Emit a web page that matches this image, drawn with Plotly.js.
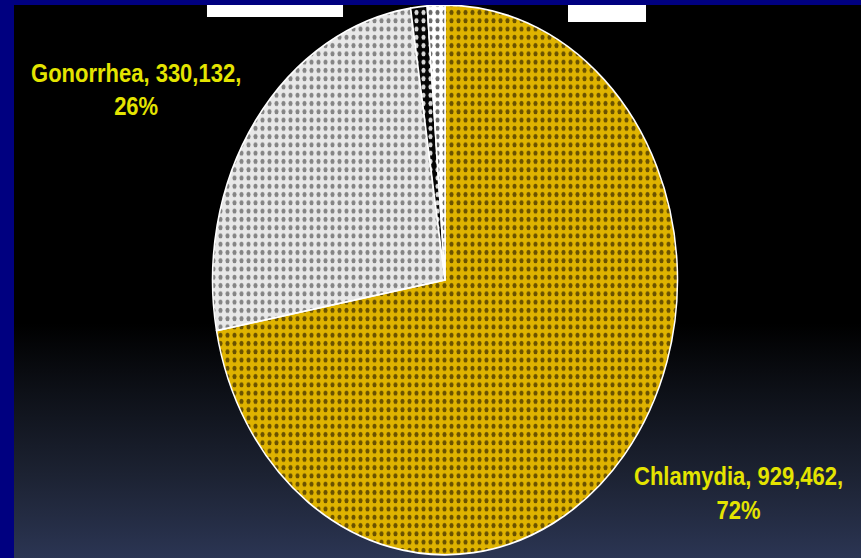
<!DOCTYPE html>
<html><head><meta charset="utf-8">
<script src="https://cdn.plot.ly/plotly-3.0.1.min.js"></script>
<style>
html,body{margin:0;padding:0;width:861px;height:558px;overflow:hidden;background:#000;}
#wrap{position:relative;width:861px;height:558px;background:linear-gradient(180deg,#000 0%,#000 58%,#0d1017 70%,#1c2232 85%,#2b3553 100%);}
#plot{position:absolute;left:0;top:0;width:861px;height:472px;transform:scaleY(1.1822);transform-origin:0 0;}
</style></head><body><div id="wrap"><div id="plot"></div></div>
<script>
// Data
const categories = ['Chlamydia', 'Gonorrhea', 'Syphilis', 'Other'];
const caseCounts = [929462, 330132, 14700, 15800];
const percentLabels = [72, 26, 1, 1];
const labelledIdx = [0, 1];

// Styles
const bgColors = ['#dfb300', '#e8e8e8', '#050505', '#ffffff'];
const dotColors = ['#6a5200', '#858585', '#d8d8d8', '#6a6a6a'];

const pie = {
  type: 'pie',
  labels: categories,
  values: caseCounts,
  sort: false,
  direction: 'clockwise',
  rotation: 0,
  textinfo: 'none',
  hoverinfo: 'none',
  showlegend: false,
  domain: {x: [0.2468, 0.7869], y: [0.0057, 0.9909]},
  marker: {
    colors: bgColors,
    line: {color: '#ffffff', width: 1.5},
    pattern: {
      shape: ['.', '.', '.', '.'],
      bgcolor: bgColors,
      fgcolor: dotColors,
      size: 7,
      solidity: 0.28
    }
  }
};

function fmt(n){ return n.toLocaleString('en-US'); }
const labelPos = {0: [738/861, 1 - 416.6/472], 1: [136/861, 1 - 75.7/472]};
const annotations = labelledIdx.map(i => ({
  xref: 'paper', yref: 'paper',
  x: labelPos[i][0], y: labelPos[i][1],
  xanchor: 'center', yanchor: 'middle',
  align: 'center', showarrow: false,
  text: categories[i] + ', ' + fmt(caseCounts[i]) + ',<br>' + percentLabels[i] + '%',
  font: {family: 'Liberation Sans, Arial, sans-serif', size: 22, color: '#e4e400', weight: 'bold'}
}));

const shapes = [
  {type: 'rect', xref: 'paper', yref: 'paper', x0: 0, x1: 1, y0: 0.99104, y1: 1.01, fillcolor: '#000080', line: {width: 0}, layer: 'above'},
  {type: 'rect', xref: 'paper', yref: 'paper', x0: 0, x1: 0.01626, y0: -0.01, y1: 1.01, fillcolor: '#000080', line: {width: 0}, layer: 'above'},
  {type: 'rect', xref: 'paper', yref: 'paper', x0: 0.2404, x1: 0.3984, y0: 0.96953, y1: 0.99104, fillcolor: '#ffffff', line: {width: 0}, layer: 'above'},
  {type: 'rect', xref: 'paper', yref: 'paper', x0: 0.6597, x1: 0.7503, y0: 0.96057, y1: 0.99104, fillcolor: '#ffffff', line: {width: 0}, layer: 'above'}
];

const layout = {
  width: 861, height: 472,
  margin: {l: 0, r: 0, t: 0, b: 0},
  paper_bgcolor: 'rgba(0,0,0,0)',
  plot_bgcolor: 'rgba(0,0,0,0)',
  showlegend: false,
  annotations: annotations,
  shapes: shapes
};

Plotly.newPlot('plot', [pie], layout, {staticPlot: true, displayModeBar: false});
</script>
</body></html>
